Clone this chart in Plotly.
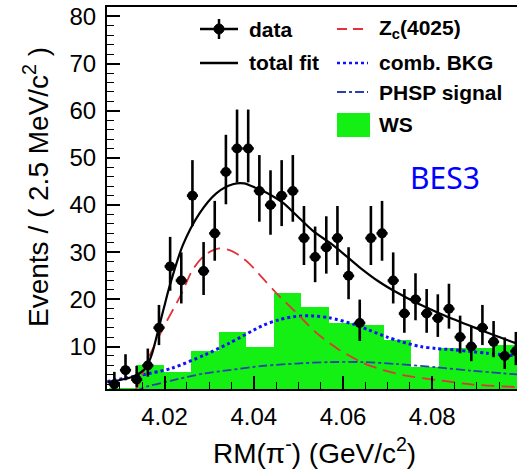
import numpy as np
import plotly.graph_objects as go

# ---------------- data ----------------
bin_centers = [4.00875, 4.01125, 4.01375, 4.01625, 4.01875, 4.02125, 4.02375, 4.02625, 4.02875, 4.03125,
               4.03375, 4.03625, 4.03875, 4.04125, 4.04375, 4.04625, 4.04875, 4.05125, 4.05375, 4.05625,
               4.05875, 4.06125, 4.06375, 4.06625, 4.06875, 4.07125, 4.07375, 4.07625, 4.07875, 4.08125,
               4.08375, 4.08625, 4.08875, 4.09125, 4.09375, 4.09625, 4.09875]
counts = [2, 5, 3, 6, 14, 27, 24, 42, 26, 34, 47, 52, 52, 43, 40, 42, 43, 33, 29, 31,
          33, 25, 15, 33, 34, 24, 17, 20, 17, 16, 18, 12, 10, 14, 11, 8, 9]
bin_half_width = 0.00125

ws_edges = [4.0075, 4.01367, 4.01983, 4.0260, 4.03217, 4.03833, 4.0445, 4.05067, 4.05683,
            4.0630, 4.06917, 4.07533, 4.0815, 4.08767, 4.09383, 4.1000]
ws_counts = [1.3, 6.1, 4.6, 9.0, 13.0, 10.0, 21.3, 18.3, 15.0, 14.5, 11.4, 5.6, 9.6, 9.6, 10.3]

total_x = [4.0072, 4.0100, 4.0128, 4.0145, 4.0159, 4.0172, 4.0185, 4.0198, 4.0211, 4.0241,
           4.0278, 4.0316, 4.0353, 4.0378, 4.0405, 4.0435, 4.0465, 4.0495, 4.0532, 4.0576,
           4.0606, 4.0640, 4.0680, 4.0720, 4.0770, 4.0808, 4.0845, 4.0882, 4.0920, 4.0956, 4.0990]
total_y = [2.4, 2.9, 3.6, 4.4, 5.6, 8.5, 13.2, 18.0, 22.7, 31.5,
           38.2, 42.5, 44.4, 44.6, 43.6, 42.3, 40.5, 37.9, 34.6, 31.6,
           29.3, 26.6, 23.8, 21.5, 19.0, 17.4, 15.9, 14.5, 13.1, 11.8, 10.6]

zc_x = [4.0128, 4.0135, 4.0144, 4.0166, 4.0204, 4.0237, 4.0263, 4.0293, 4.0323, 4.0340,
        4.0360, 4.0390, 4.0420, 4.0450, 4.0495, 4.0539, 4.0587, 4.0643, 4.0690, 4.0737,
        4.0811, 4.0887, 4.0990]
zc_y = [0.3, 0.9, 2.5, 8.0, 15.2, 21.0, 26.3, 29.6, 30.8, 30.6,
        29.8, 27.6, 24.5, 21.4, 17.2, 13.0, 9.6, 6.6, 5.0, 3.9,
        2.9, 2.0, 1.4]

bkg_x = [4.0072, 4.0140, 4.0216, 4.0289, 4.0345, 4.0419, 4.0457, 4.0495, 4.0531, 4.0569,
         4.0625, 4.0658, 4.0699, 4.0732, 4.0774, 4.0808, 4.0849, 4.0882, 4.0922, 4.0990]
bkg_y = [2.6, 3.8, 5.4, 8.2, 10.7, 14.4, 15.7, 16.4, 16.5, 16.1,
         14.7, 13.5, 12.0, 11.0, 10.0, 9.6, 9.3, 9.0, 8.6, 8.0]

phsp_x = [4.0135, 4.0150, 4.0216, 4.0289, 4.0345, 4.0420, 4.0495, 4.0570, 4.0645, 4.0720,
          4.0810, 4.0885, 4.0990]
phsp_y = [0.4, 1.2, 2.8, 4.3, 5.0, 5.9, 6.4, 6.7, 6.7, 6.3, 5.6, 4.9, 4.1]

x_ticks = [4.02, 4.04, 4.06, 4.08]
y_ticks = [10, 20, 30, 40, 50, 60, 70, 80]


def poisson_errors(n):
    n = float(n)
    lo = n * (1 - 1 / (9 * n) - 1 / (3 * np.sqrt(n))) ** 3 if n > 0 else 0.0
    m = n + 1
    hi = m * (1 - 1 / (9 * m) + 1 / (3 * np.sqrt(m))) ** 3
    return n - lo, hi - n


err_lo, err_hi = zip(*[poisson_errors(c) for c in counts])

ws_centers = [(a + b) / 2 for a, b in zip(ws_edges[:-1], ws_edges[1:])]
ws_widths = [b - a for a, b in zip(ws_edges[:-1], ws_edges[1:])]

# ---------------- styles ----------------
GREEN = "#14ef14"
RED = "#e0343a"
BLUE = "#1010ff"
PHSP_C = "#2a3fb0"
FONT = "Liberation Sans"
RED_DASH = "13px,7px"

W, H = 517, 470
ML, MR, MT, MB = 107, 0, 7, 81
PW, PH = W - ML - MR, H - MT - MB


def px(xp):
    return (xp - ML) / PW


def py(yp):
    return 1 - (yp - MT) / PH


fig = go.Figure()

fig.add_trace(go.Bar(x=ws_centers, y=ws_counts, width=ws_widths, name="WS",
                     marker=dict(color=GREEN, line=dict(width=0)), showlegend=False))
fig.add_trace(go.Scatter(x=phsp_x, y=phsp_y, mode="lines", name="PHSP signal",
                         line=dict(color=PHSP_C, width=1.8, dash="dashdot", shape="spline", smoothing=0.8),
                         showlegend=False))
fig.add_trace(go.Scatter(x=bkg_x, y=bkg_y, mode="lines", name="comb. BKG",
                         line=dict(color=BLUE, width=3, dash="dot", shape="spline", smoothing=0.8),
                         showlegend=False))
fig.add_trace(go.Scatter(x=zc_x, y=zc_y, mode="lines", name="Zc(4025)",
                         line=dict(color=RED, width=1.8, dash=RED_DASH, shape="spline", smoothing=0.8),
                         showlegend=False))
fig.add_trace(go.Scatter(x=total_x, y=total_y, mode="lines", name="total fit",
                         line=dict(color="black", width=2.2, shape="spline", smoothing=0.8),
                         showlegend=False))
fig.add_trace(go.Scatter(x=bin_centers, y=counts, mode="markers", name="data",
                         marker=dict(color="black", size=10, symbol="circle"),
                         error_y=dict(type="data", symmetric=False, array=list(err_hi), arrayminus=list(err_lo),
                                      color="black", thickness=2.6, width=0),
                         error_x=dict(type="constant", value=bin_half_width, color="black", thickness=2.6, width=0),
                         showlegend=False))

# ---------------- legend (drawn) ----------------
shapes = []
annotations = []
LEG_FONT = dict(family=FONT, size=21, color="black", weight="bold")
r1, r2, r3, r4 = 29, 63, 92, 125
c1a, c1b, c1t = 200, 238, 247
c2a, c2b, c2t = 337, 368, 377

# data symbol
shapes.append(dict(type="line", xref="paper", yref="paper", x0=px(c1a), x1=px(c1b), y0=py(r1), y1=py(r1),
                   line=dict(color="black", width=2.5)))
shapes.append(dict(type="line", xref="paper", yref="paper", x0=px(219), x1=px(219), y0=py(r1 - 10), y1=py(r1 + 10),
                   line=dict(color="black", width=2.5)))
shapes.append(dict(type="circle", xref="paper", yref="paper", x0=px(214), x1=px(224), y0=py(r1 - 5), y1=py(r1 + 5),
                   fillcolor="black", line=dict(color="black", width=1)))
# total fit
shapes.append(dict(type="line", xref="paper", yref="paper", x0=px(c1a), x1=px(c1b), y0=py(r2), y1=py(r2),
                   line=dict(color="black", width=2.5)))
# Zc
shapes.append(dict(type="line", xref="paper", yref="paper", x0=px(c2a), x1=px(c2b), y0=py(r1), y1=py(r1),
                   line=dict(color=RED, width=2, dash="10px,6px")))
# comb BKG
shapes.append(dict(type="line", xref="paper", yref="paper", x0=px(c2a), x1=px(c2b), y0=py(r2), y1=py(r2),
                   line=dict(color=BLUE, width=2.5, dash="dot")))
# PHSP
shapes.append(dict(type="line", xref="paper", yref="paper", x0=px(c2a), x1=px(c2b), y0=py(r3), y1=py(r3),
                   line=dict(color=PHSP_C, width=2, dash="dashdot")))
# WS box
shapes.append(dict(type="rect", xref="paper", yref="paper", x0=px(337), x1=px(370), y0=py(113), y1=py(137),
                   fillcolor=GREEN, line=dict(width=0)))

for text, xx, yy in [("data", c1t, r1), ("total fit", c1t, r2),
                     ("Z<sub>c</sub>(4025)", c2t, r1), ("comb. BKG", c2t, r2),
                     ("PHSP signal", c2t, r3), ("WS", c2t, r4)]:
    annotations.append(dict(text=text, xref="paper", yref="paper", x=px(xx), y=py(yy),
                            xanchor="left", yanchor="middle", showarrow=False, font=LEG_FONT))

annotations.append(dict(text="BES3", xref="paper", yref="paper", x=px(445), y=py(177),
                        xanchor="center", yanchor="middle", showarrow=False,
                        font=dict(family="Noto Sans", size=30, color="#0000ff")))

# axis titles
annotations.append(dict(text="RM(π<sup>-</sup>) (GeV/c<sup>2</sup>)", xref="paper", yref="paper",
                        x=px(314), y=py(451), xanchor="center", yanchor="middle", showarrow=False,
                        font=dict(family=FONT, size=28, color="black")))
annotations.append(dict(text="Events / ( 2.5 MeV/c<sup>2</sup> )", xref="paper", yref="paper",
                        x=px(36), y=py(187), xanchor="center", yanchor="middle", textangle=-90,
                        showarrow=False, font=dict(family=FONT, size=28, color="black")))

fig.update_layout(
    width=W, height=H,
    margin=dict(l=ML, r=MR, t=MT, b=MB, pad=0),
    paper_bgcolor="white", plot_bgcolor="white",
    showlegend=False, bargap=0,
    shapes=shapes, annotations=annotations,
    xaxis=dict(range=[4.0071, 4.0990], tickvals=x_ticks, tickformat=".2f",
               ticks="inside", ticklen=13, tickwidth=1.5, tickcolor="black",
               minor=dict(dtick=0.005, tick0=4.0, ticks="inside", ticklen=7, tickwidth=1.2, tickcolor="black"),
               showline=True, linecolor="black", linewidth=2, mirror=True,
               showgrid=False, zeroline=False, ticklabelstandoff=5,
               tickfont=dict(family=FONT, size=24, color="black")),
    yaxis=dict(range=[1, 82], tickvals=y_ticks,
               ticks="inside", ticklen=13, tickwidth=1.5, tickcolor="black",
               minor=dict(dtick=2, tick0=0, ticks="inside", ticklen=7, tickwidth=1.2, tickcolor="black"),
               showline=True, linecolor="black", linewidth=2, mirror=False,
               showgrid=False, zeroline=False, ticklabelstandoff=4,
               tickfont=dict(family=FONT, size=24, color="black")),
)

fig.write_html("out.html")
